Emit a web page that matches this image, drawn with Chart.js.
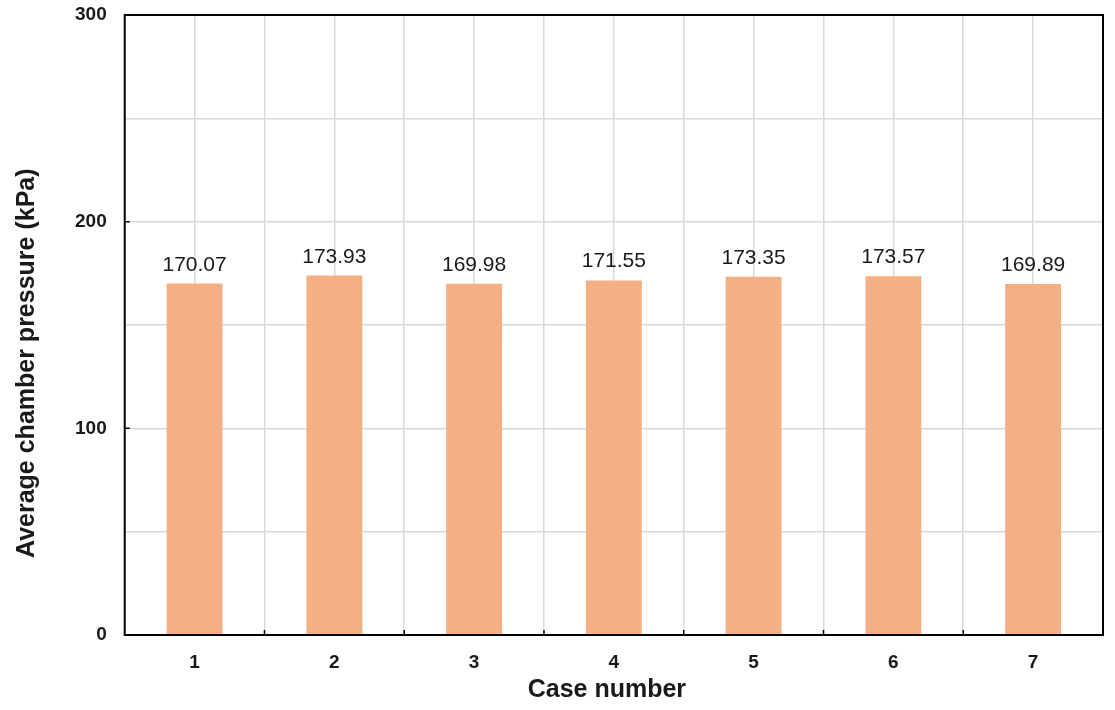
<!DOCTYPE html>
<html>
<head>
<meta charset="utf-8">
<script src="https://cdn.jsdelivr.net/npm/chart.js@4"></script>
<style>
    html, body { margin: 0; padding: 0; background: #fff; }
    #wrap { width: 1115px; height: 710px; }
</style>
</head>
<body>
<div id="wrap"><canvas id="chart"></canvas></div>
<script>
// Chart data
const cases = ['1', '2', '3', '4', '5', '6', '7'];
const pressures = [170.07, 173.93, 169.98, 171.55, 173.35, 173.57, 169.89];
const yLabels = [0, 100, 200, 300];

const barColor = '#F2B084';
const gridColor = '#D9D9D9';
const fontFamily = 'Arial, "Liberation Sans", sans-serif';
const nb = '\u00A0';

// Value labels above each bar
const valueLabels = {
    id: 'valueLabels',
    afterDatasetsDraw(chart) {
        const ctx = chart.ctx;
        const meta = chart.getDatasetMeta(0);
        ctx.save();
        ctx.font = '21px ' + fontFamily;
        ctx.fillStyle = '#1a1a1a';
        ctx.textAlign = 'center';
        ctx.textBaseline = 'alphabetic';
        meta.data.forEach((bar, i) => {
            ctx.fillText(pressures[i].toFixed(2), bar.x, bar.y - 13);
        });
        ctx.restore();
    }
};

// Box around the plot plus small inward tick marks
const frame = {
    id: 'frame',
    afterDraw(chart) {
        const { ctx, chartArea: a, scales } = chart;
        ctx.save();
        ctx.strokeStyle = '#000';
        ctx.lineWidth = 2;
        ctx.strokeRect(a.left, a.top, a.right - a.left, a.bottom - a.top);

        ctx.lineWidth = 1.5;
        ctx.beginPath();
        // y ticks
        yLabels.forEach(v => {
            const y = scales.y.getPixelForValue(v);
            ctx.moveTo(a.left, y);
            ctx.lineTo(a.left + 5, y);
        });
        // x ticks at the category boundaries
        for (let i = 1; i < cases.length; i++) {
            const x = (scales.x.getPixelForValue(i - 1) + scales.x.getPixelForValue(i)) / 2;
            ctx.moveTo(x, a.bottom);
            ctx.lineTo(x, a.bottom - 5);
        }
        ctx.stroke();
        ctx.restore();
    }
};

new Chart(document.getElementById('chart'), {
    type: 'bar',
    data: {
        labels: cases,
        datasets: [{
            label: 'Average chamber pressure',
            data: pressures,
            backgroundColor: barColor,
            borderWidth: 0,
            barPercentage: 0.4,
            categoryPercentage: 1.0
        }]
    },
    options: {
        responsive: true,
        maintainAspectRatio: false,
        animation: false,
        layout: {
            padding: { top: 15, right: 12, left: 12, bottom: 5 }
        },
        plugins: {
            legend: { display: false },
            tooltip: { enabled: false }
        },
        scales: {
            x: {
                offset: true,
                afterFit: scale => { scale.height = 70; },
                grid: {
                    offset: true,
                    color: gridColor,
                    lineWidth: 1.5,
                    drawTicks: false
                },
                border: { display: false },
                ticks: {
                    color: '#1a1a1a',
                    padding: 16,
                    font: { family: fontFamily, size: 19, weight: 'bold' }
                },
                title: {
                    display: true,
                    text: 'Case number' + nb + nb,
                    color: '#1a1a1a',
                    padding: { top: 0, bottom: 0 },
                    font: { family: fontFamily, size: 25, weight: 'bold' }
                }
            },
            // second category axis only for the gridlines through bar centres
            x2: {
                type: 'category',
                labels: cases,
                offset: true,
                position: 'bottom',
                afterFit: scale => { scale.height = 0; },
                grid: {
                    offset: false,
                    color: gridColor,
                    lineWidth: 1.5,
                    drawTicks: false
                },
                border: { display: false },
                ticks: { display: false }
            },
            y: {
                min: 0,
                max: 300,
                afterFit: scale => { scale.paddingTop = 0; },
                grid: {
                    color: ctx => ctx.tick.value === 0 ? 'rgba(0,0,0,0)' : gridColor,
                    lineWidth: 1.5,
                    drawTicks: false
                },
                border: { display: false },
                ticks: {
                    stepSize: 50,
                    padding: 18,
                    color: '#1a1a1a',
                    font: { family: fontFamily, size: 19, weight: 'bold' },
                    callback: v => (yLabels.includes(v) ? v : '')
                },
                title: {
                    display: true,
                    text: 'Average chamber pressure (kPa)' + nb.repeat(11),
                    color: '#1a1a1a',
                    padding: { top: 0, bottom: 15 },
                    font: { family: fontFamily, size: 25, weight: 'bold' }
                }
            }
        }
    },
    plugins: [valueLabels, frame]
});
</script>
</body>
</html>
